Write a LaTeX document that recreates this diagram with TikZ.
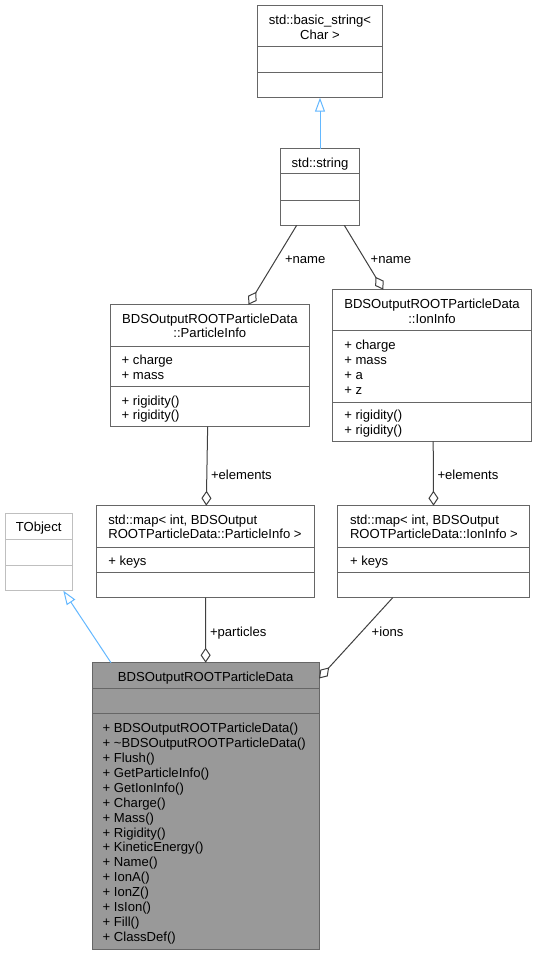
\documentclass[tikz,border=0pt]{standalone}
\usepackage{fontspec}
\setmainfont{Liberation Sans}
\usetikzlibrary{arrows.meta,calc}
\definecolor{bordergray}{HTML}{666666}
\definecolor{lightborder}{HTML}{BFBFBF}
\definecolor{inhblue}{HTML}{63B8FF}
\definecolor{edgegray}{HTML}{404040}
\definecolor{mainfill}{HTML}{999999}
\newcommand\dgfont{\fontsize{13.1}{15}\selectfont}
\begin{document}
\begin{tikzpicture}[x=1pt,y=-1pt,
  cls/.style={draw=bordergray, line width=1pt, fill=white, inner sep=0pt, outer sep=0pt, anchor=north west},
  divline/.style={draw=bordergray, line width=1pt},
  txt/.style={inner sep=0pt, outer sep=0pt, font=\dgfont, text=black},
  lbl/.style={txt, anchor=base west},
  ctr/.style={txt, anchor=base},
  inh/.style={draw=inhblue, line width=1pt, -{Triangle[open, length=14pt, width=10pt]}},
  agg/.style={draw=edgegray, line width=1pt, -{Diamond[open, length=15pt, width=10pt]}}]
\useasboundingbox[fill=white] (0,0) rectangle (537,956);

% std::basic_string<Char>
\node[cls, minimum width=125.4pt, minimum height=92pt] (bs) at (257.3,5.7) {};
\draw[divline] (257.3,46.7) -- (382.7,46.7);
\draw[divline] (257.3,72) -- (382.7,72);
\node[ctr] (bst1) at (320,24.6) {std::basic\_string<};
\node[ctr] (bst2) at (320,39.3) {Char >};

% std::string
\node[cls, minimum width=79.4pt, minimum height=76.6pt] (str) at (280.3,148.7) {};
\draw[divline] (280.3,173.7) -- (359.7,173.7);
\draw[divline] (280.3,200) -- (359.7,200);
\node[ctr] (strt) at (320,167.3) {std::string};

% ParticleInfo
\node[cls, minimum width=198.3pt, minimum height=122pt] (pinfo) at (110.7,304.7) {};
\draw[divline] (110.7,346) -- (309,346);
\draw[divline] (110.7,386.5) -- (309,386.5);
\node[ctr] (pit1) at (209.85,323.6) {BDSOutputROOTParticleData};
\node[ctr] (pit2) at (209.85,337.9) {::ParticleInfo};
\node[lbl] (pia1) at (121.7,364.6) {+ charge};
\node[lbl] (pia2) at (121.7,379.2) {+ mass};
\node[lbl] (pim1) at (121.7,405.2) {+ rigidity()};
\node[lbl] (pim2) at (121.7,419.8) {+ rigidity()};

% IonInfo
\node[cls, minimum width=198.6pt, minimum height=151.6pt] (iinfo) at (332.7,289.7) {};
\draw[divline] (332.7,330.7) -- (531.3,330.7);
\draw[divline] (332.7,402) -- (531.3,402);
\node[ctr] (iit1) at (432,308.9) {BDSOutputROOTParticleData};
\node[ctr] (iit2) at (432,323.6) {::IonInfo};
\node[lbl] (iia1) at (344.3,349.6) {+ charge};
\node[lbl] (iia2) at (344.3,364.6) {+ mass};
\node[lbl] (iia3) at (344.3,379.6) {+ a};
\node[lbl] (iia4) at (344.3,394.6) {+ z};
\node[lbl] (iim1) at (344.3,419.6) {+ rigidity()};
\node[lbl] (iim2) at (344.3,434.6) {+ rigidity()};

% map ParticleInfo
\node[cls, minimum width=217.6pt, minimum height=92pt] (mpi) at (96.7,505.7) {};
\draw[divline] (96.7,547.3) -- (314.3,547.3);
\draw[divline] (96.7,572.7) -- (314.3,572.7);
\node[lbl] (mpit1) at (108.3,524.6) {std::map< int, BDSOutput};
\node[lbl] (mpit2) at (108.3,538.9) {ROOTParticleData::ParticleInfo >};
\node[lbl] (mpia1) at (108.3,565.3) {+ keys};

% map IonInfo
\node[cls, minimum width=191.6pt, minimum height=92pt] (mion) at (337.7,505.7) {};
\draw[divline] (337.7,547.3) -- (529.3,547.3);
\draw[divline] (337.7,572.7) -- (529.3,572.7);
\node[lbl] (mit1) at (350,524.6) {std::map< int, BDSOutput};
\node[lbl] (mit2) at (350,538.9) {ROOTParticleData::IonInfo >};
\node[lbl] (mia1) at (350,565.3) {+ keys};

% TObject
\node[cls, draw=lightborder, minimum width=67.3pt, minimum height=77.4pt] (tobj) at (5,513.3) {};
\draw[divline, draw=lightborder] (5,539.3) -- (72.3,539.3);
\draw[divline, draw=lightborder] (5,565) -- (72.3,565);
\node[ctr] (tobjt) at (38.65,531.9) {TObject};

% main class
\node[cls, fill=mainfill, minimum width=226.7pt, minimum height=286.3pt] (main) at (92.3,662.7) {};
\draw[divline] (92.3,688.3) -- (319,688.3);
\draw[divline] (92.3,713.7) -- (319,713.7);
\node[ctr] (maint) at (205.65,681.3) {BDSOutputROOTParticleData};
\foreach \t [count=\i] in {BDSOutputROOTParticleData(), \textasciitilde BDSOutputROOTParticleData(), Flush(), GetParticleInfo(), GetIonInfo(), Charge(), Mass(), Rigidity(), KineticEnergy(), Name(), IonA(), IonZ(), IsIon(), Fill(), ClassDef()}
  \node[lbl] (mm\i) at (102.7,{732.9+(\i-1)*14.88}) {+ \t};

% connectors
\draw[inh] (str.north) -- (bs.south);
\draw[agg] ([xshift=-23.3pt]str.south) -- ([xshift=38.6pt]pinfo.north);
\node[lbl] (lname1) at (285,263.6) {+name};
\draw[agg] ([xshift=24.3pt]str.south) -- ([xshift=-48.7pt]iinfo.north);
\node[lbl] (lname2) at (370.7,263.6) {+name};
\draw[agg] ([xshift=-2.2pt]pinfo.south) -- ([xshift=0.8pt]mpi.north);
\node[lbl] (lel1) at (211,479.6) {+elements};
\draw[agg] ([xshift=1.2pt]iinfo.south) -- (mion.north);
\node[lbl] (lel2) at (437.5,479.6) {+elements};
\draw[agg] (mpi.south) -- (main.north);
\node[lbl] (lpart) at (210,636.3) {+particles};
\draw[agg] ([xshift=-40.8pt]mion.south) -- ([yshift=-15.8pt]main.north east);
\node[lbl] (lions) at (371.7,636.3) {+ions};
\draw[inh] ([xshift=18.7pt]main.north west) -- ([xshift=24.65pt]tobj.south);
\end{tikzpicture}
\end{document}
